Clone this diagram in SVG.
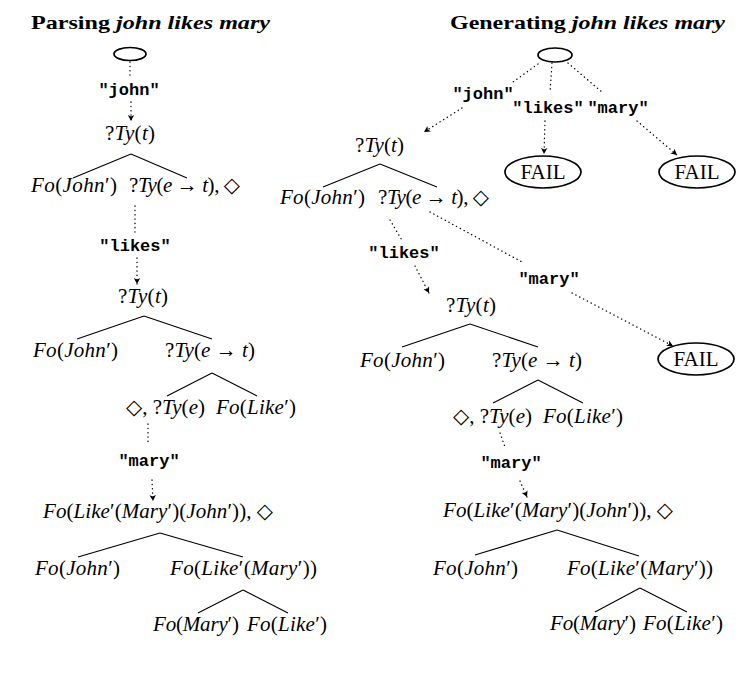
<svg xmlns="http://www.w3.org/2000/svg" width="755" height="695" viewBox="0 0 755 695">
<style>
.title{font-family:"Liberation Serif","DejaVu Serif",serif;font-size:19px;font-weight:bold;fill:#000}
.bi{font-style:italic}
.m{font-family:"Liberation Serif","DejaVu Serif",serif;font-size:21px;font-style:italic;fill:#000}
.u{font-style:normal}
.tt{font-family:"Liberation Mono","DejaVu Sans Mono",monospace;font-size:17px;font-weight:bold;fill:#000;text-anchor:middle}
.fail{font-family:"Liberation Serif","DejaVu Serif",serif;font-size:21px;fill:#000;text-anchor:middle}
.ell{fill:#fff;stroke:#000;stroke-width:1.7}
.tree{stroke:#000;stroke-width:1.1;fill:none}
.dot{stroke:#000;stroke-width:1.3;fill:none;stroke-dasharray:0.3 4;stroke-linecap:round}
</style>
<defs>
<marker id="ah" markerUnits="userSpaceOnUse" markerWidth="8" markerHeight="8" refX="6" refY="4" orient="auto">
<path d="M0,0.8 L6,4 L0,7.2 L1.5,4 z" fill="#000"/>
</marker>
</defs>
<rect width="755" height="695" fill="#fff"/>

<text class="title" x="31" y="29" textLength="239" lengthAdjust="spacingAndGlyphs">Parsing <tspan class="bi">john likes mary</tspan></text>
<text class="title" x="450" y="29" textLength="275" lengthAdjust="spacingAndGlyphs">Generating <tspan class="bi">john likes mary</tspan></text>

<g id="connectors">
<!-- left parse -->
<line class="dot" x1="130" y1="62" x2="130" y2="79"/>
<line class="dot" x1="131" y1="102" x2="131" y2="121" marker-end="url(#ah)"/>
<line class="tree" x1="131" y1="154" x2="73" y2="178"/>
<line class="tree" x1="131" y1="154" x2="187" y2="178"/>
<line class="dot" x1="135" y1="206" x2="135" y2="232"/>
<line class="dot" x1="137" y1="258" x2="137" y2="284" marker-end="url(#ah)"/>
<line class="tree" x1="144" y1="316" x2="77" y2="339"/>
<line class="tree" x1="144" y1="316" x2="212" y2="339"/>
<line class="tree" x1="212" y1="373" x2="167" y2="396"/>
<line class="tree" x1="212" y1="373" x2="257" y2="396"/>
<line class="dot" x1="148" y1="424" x2="148" y2="445"/>
<line class="dot" x1="152" y1="480" x2="153" y2="501" marker-end="url(#ah)"/>
<line class="tree" x1="160" y1="533" x2="78" y2="557"/>
<line class="tree" x1="160" y1="533" x2="243" y2="557"/>
<line class="tree" x1="243" y1="590" x2="198" y2="613"/>
<line class="tree" x1="243" y1="590" x2="288" y2="613"/>
<!-- right generate -->
<line class="dot" x1="538" y1="64" x2="513" y2="82"/>
<line class="dot" x1="462" y1="108" x2="424" y2="132" marker-end="url(#ah)"/>
<line class="dot" x1="552" y1="63" x2="550" y2="93"/>
<line class="dot" x1="545" y1="121" x2="544" y2="154" marker-end="url(#ah)"/>
<line class="dot" x1="568" y1="63" x2="603" y2="93"/>
<line class="dot" x1="637" y1="121" x2="677" y2="155" marker-end="url(#ah)"/>
<line class="tree" x1="380" y1="164" x2="323" y2="187"/>
<line class="tree" x1="380" y1="164" x2="437" y2="187"/>
<line class="dot" x1="390" y1="220" x2="403" y2="242"/>
<line class="dot" x1="415" y1="266" x2="429" y2="293" marker-end="url(#ah)"/>
<line class="dot" x1="430" y1="212" x2="522" y2="262"/>
<line class="dot" x1="572" y1="293" x2="673" y2="346" marker-end="url(#ah)"/>
<line class="tree" x1="470" y1="324" x2="402" y2="347"/>
<line class="tree" x1="470" y1="324" x2="538" y2="347"/>
<line class="tree" x1="538" y1="380" x2="493" y2="403"/>
<line class="tree" x1="538" y1="380" x2="583" y2="403"/>
<line class="dot" x1="500" y1="433" x2="505" y2="447"/>
<line class="dot" x1="520" y1="481" x2="527" y2="497" marker-end="url(#ah)"/>
<line class="tree" x1="557" y1="530" x2="475" y2="555"/>
<line class="tree" x1="557" y1="530" x2="639" y2="556"/>
<line class="tree" x1="640" y1="588" x2="595" y2="612"/>
<line class="tree" x1="640" y1="588" x2="687" y2="612"/>
</g>

<!-- connector labels -->
<g id="labels">
<text class="tt" x="129" y="95">"john"</text>
<text class="tt" x="135" y="251">"likes"</text>
<text class="tt" x="149" y="466">"mary"</text>
<text class="tt" x="483" y="99">"john"</text>
<text class="tt" x="548" y="113">"likes"</text>
<text class="tt" x="618" y="113">"mary"</text>
<text class="tt" x="404" y="258">"likes"</text>
<text class="tt" x="549" y="284">"mary"</text>
<text class="tt" x="511" y="468">"mary"</text>
</g>

<!-- left parse nodes -->
<g id="p-start"><ellipse class="ell" cx="130" cy="54" rx="16" ry="6.5"/></g>
<g id="p1-root"><text class="m" x="105" y="140" textLength="50"><tspan class="u">?</tspan>Ty<tspan class="u">(</tspan>t<tspan class="u">)</tspan></text></g>
<g id="p1-subj"><text class="m" x="31" y="192" textLength="86">Fo<tspan class="u">(</tspan>John<tspan class="u">′)</tspan></text></g>
<g id="p1-pred"><text class="m" x="129" y="192" textLength="111"><tspan class="u">?</tspan>Ty<tspan class="u">(</tspan>e <tspan class="u">→</tspan> t<tspan class="u">), ◇</tspan></text></g>
<g id="p2-root"><text class="m" x="118" y="303" textLength="50"><tspan class="u">?</tspan>Ty<tspan class="u">(</tspan>t<tspan class="u">)</tspan></text></g>
<g id="p2-subj"><text class="m" x="33" y="357" textLength="85">Fo<tspan class="u">(</tspan>John<tspan class="u">′)</tspan></text></g>
<g id="p2-pred"><text class="m" x="165" y="357" textLength="90"><tspan class="u">?</tspan>Ty<tspan class="u">(</tspan>e <tspan class="u">→</tspan> t<tspan class="u">)</tspan></text></g>
<g id="p2-obj"><text class="m" x="126" y="414" textLength="79"><tspan class="u">◇, ?</tspan>Ty<tspan class="u">(</tspan>e<tspan class="u">)</tspan></text></g>
<g id="p2-verb"><text class="m" x="216" y="414" textLength="80">Fo<tspan class="u">(</tspan>Like<tspan class="u">′)</tspan></text></g>
<g id="p3-root"><text class="m" x="43" y="518" textLength="230">Fo<tspan class="u">(</tspan>Like<tspan class="u">′(</tspan>Mary<tspan class="u">′)(</tspan>John<tspan class="u">′)), ◇</tspan></text></g>
<g id="p3-subj"><text class="m" x="35" y="575" textLength="85">Fo<tspan class="u">(</tspan>John<tspan class="u">′)</tspan></text></g>
<g id="p3-pred"><text class="m" x="170" y="575" textLength="147">Fo<tspan class="u">(</tspan>Like<tspan class="u">′(</tspan>Mary<tspan class="u">′))</tspan></text></g>
<g id="p3-obj"><text class="m" x="153" y="631" textLength="86">Fo<tspan class="u">(</tspan>Mary<tspan class="u">′)</tspan></text></g>
<g id="p3-verb"><text class="m" x="247" y="631" textLength="80">Fo<tspan class="u">(</tspan>Like<tspan class="u">′)</tspan></text></g>

<!-- right generate nodes -->
<g id="g-start"><ellipse class="ell" cx="555" cy="55" rx="17" ry="7"/></g>
<g id="g-fail1"><ellipse class="ell" cx="543" cy="172" rx="38" ry="16"/><text class="fail" x="543" y="179">FAIL</text></g>
<g id="g-fail2"><ellipse class="ell" cx="697" cy="172" rx="38" ry="16"/><text class="fail" x="697" y="179">FAIL</text></g>
<g id="g-fail3"><ellipse class="ell" cx="696" cy="359" rx="38" ry="16"/><text class="fail" x="696" y="366">FAIL</text></g>
<g id="g1-root"><text class="m" x="355" y="152" textLength="49"><tspan class="u">?</tspan>Ty<tspan class="u">(</tspan>t<tspan class="u">)</tspan></text></g>
<g id="g1-subj"><text class="m" x="280" y="204" textLength="85">Fo<tspan class="u">(</tspan>John<tspan class="u">′)</tspan></text></g>
<g id="g1-pred"><text class="m" x="378" y="204" textLength="111"><tspan class="u">?</tspan>Ty<tspan class="u">(</tspan>e <tspan class="u">→</tspan> t<tspan class="u">), ◇</tspan></text></g>
<g id="g2-root"><text class="m" x="446" y="312" textLength="50"><tspan class="u">?</tspan>Ty<tspan class="u">(</tspan>t<tspan class="u">)</tspan></text></g>
<g id="g2-subj"><text class="m" x="360" y="367" textLength="85">Fo<tspan class="u">(</tspan>John<tspan class="u">′)</tspan></text></g>
<g id="g2-pred"><text class="m" x="492" y="367" textLength="90"><tspan class="u">?</tspan>Ty<tspan class="u">(</tspan>e <tspan class="u">→</tspan> t<tspan class="u">)</tspan></text></g>
<g id="g2-obj"><text class="m" x="453" y="423" textLength="79"><tspan class="u">◇, ?</tspan>Ty<tspan class="u">(</tspan>e<tspan class="u">)</tspan></text></g>
<g id="g2-verb"><text class="m" x="543" y="423" textLength="80">Fo<tspan class="u">(</tspan>Like<tspan class="u">′)</tspan></text></g>
<g id="g3-root"><text class="m" x="443" y="517" textLength="230">Fo<tspan class="u">(</tspan>Like<tspan class="u">′(</tspan>Mary<tspan class="u">′)(</tspan>John<tspan class="u">′)), ◇</tspan></text></g>
<g id="g3-subj"><text class="m" x="433" y="575" textLength="85">Fo<tspan class="u">(</tspan>John<tspan class="u">′)</tspan></text></g>
<g id="g3-pred"><text class="m" x="567" y="575" textLength="146">Fo<tspan class="u">(</tspan>Like<tspan class="u">′(</tspan>Mary<tspan class="u">′))</tspan></text></g>
<g id="g3-obj"><text class="m" x="550" y="630" textLength="86">Fo<tspan class="u">(</tspan>Mary<tspan class="u">′)</tspan></text></g>
<g id="g3-verb"><text class="m" x="643" y="630" textLength="80">Fo<tspan class="u">(</tspan>Like<tspan class="u">′)</tspan></text></g>
</svg>
